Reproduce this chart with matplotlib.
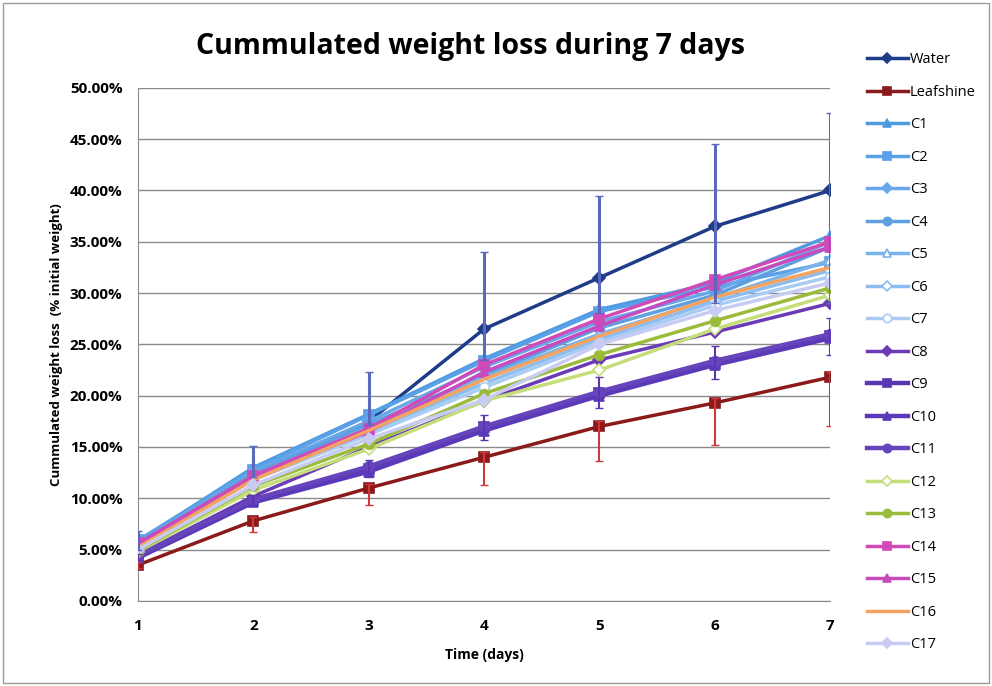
import matplotlib
matplotlib.use("Agg")
import matplotlib.pyplot as plt
import matplotlib.ticker as ticker
from matplotlib.patches import Rectangle

plt.rcParams["font.family"] = ["Open Sans", "DejaVu Sans"]

days = [1, 2, 3, 4, 5, 6, 7]
labels = ["Water", "Leafshine", "C1", "C2", "C3", "C4", "C5", "C6", "C7", "C8",
          "C9", "C10", "C11", "C12", "C13", "C14", "C15", "C16", "C17"]

# weight loss in % of initial weight
water = [5.3, 12.5, 17.5, 26.5, 31.5, 36.5, 40.0]
leafshine = [3.5, 7.8, 11.0, 14.0, 17.0, 19.3, 21.8]
c1 = [5.8, 13.0, 18.2, 23.6, 28.4, 31.0, 35.6]
c2 = [5.9, 12.8, 18.1, 23.4, 28.2, 30.6, 33.0]
c3 = [5.6, 12.6, 17.5, 22.8, 27.2, 30.2, 35.0]
c4 = [5.5, 12.4, 17.2, 22.0, 26.6, 29.8, 34.5]
c5 = [5.4, 12.2, 16.8, 21.8, 26.0, 29.5, 33.2]
c6 = [5.3, 12.0, 16.5, 21.2, 25.5, 29.2, 32.2]
c7 = [5.2, 11.8, 16.2, 20.8, 25.2, 28.8, 31.6]
c8 = [4.5, 10.2, 15.0, 19.5, 23.5, 26.2, 29.0]
c9 = [4.3, 9.8, 12.9, 16.9, 20.3, 23.2, 25.8]
c10 = [4.2, 9.6, 12.6, 16.6, 20.0, 23.0, 25.6]
c11 = [4.4, 9.9, 13.1, 17.0, 20.4, 23.4, 26.0]
c12 = [4.8, 10.8, 14.8, 19.5, 22.5, 26.5, 29.8]
c13 = [4.9, 11.2, 15.3, 20.2, 24.0, 27.3, 30.5]
c14 = [5.6, 12.2, 16.8, 23.0, 27.5, 31.3, 35.0]
c15 = [5.5, 12.0, 16.5, 22.3, 26.8, 30.8, 34.5]
c16 = [5.2, 11.8, 16.6, 21.6, 25.8, 29.6, 32.5]
c17 = [5.0, 11.3, 15.8, 19.6, 25.0, 28.3, 31.0]

series = [water, leafshine, c1, c2, c3, c4, c5, c6, c7, c8,
          c9, c10, c11, c12, c13, c14, c15, c16, c17]

# error bars (lower, upper)
water_err_lo = [0.3, 0.4, 0.4, 3.0, 3.4, 7.5, 11.0]
water_err_hi = [1.5, 2.6, 4.8, 7.5, 8.0, 8.0, 7.5]
leaf_err_lo = [0.3, 1.1, 1.7, 2.7, 3.4, 4.1, 4.8]
leaf_err_hi = [0.3, 0.4, 0.4, 0.5, 0.5, 0.5, 0.5]
purple_err = [0.3, 0.5, 0.8, 1.2, 1.5, 1.6, 1.8]

colors = ["#1F3C88", "#8B1A1A", "#4F9BE0", "#5AA0E8", "#68A8EA", "#5E9FDF",
          "#7AB3EC", "#8DBDF0", "#A8CCF2", "#6A3BB5", "#5B36B0", "#5A3AB8",
          "#6644BB", "#C5DE7A", "#9BBB3A", "#D04AB8", "#C84ABF", "#F4A460",
          "#C8CCF4"]
markers = ["D", "s", "^", "s", "D", "o", "^", "D", "o", "D",
           "s", "^", "o", "D", "o", "s", "^", None, "D"]
open_marker = {"C5", "C6", "C7", "C12"}

fig = plt.figure(figsize=(9.92, 6.86), dpi=100)
ax = fig.add_axes([0.139, 0.124, 0.698, 0.748])

for name, vals, col, mk in zip(labels, series, colors, markers):
    lw = 2.5
    ms = 7 if mk != "D" else 6
    if name in ("C9", "C10", "C11"):
        lw = 3.2
    mfc = "white" if name in open_marker else col
    ax.plot(days, vals, color=col, lw=lw, marker=mk, ms=ms,
            mfc=mfc, mec=col, mew=1.2, label=name, zorder=3)

ax.errorbar(days, water, yerr=[water_err_lo, water_err_hi], fmt="none",
            ecolor="#5A68BE", elinewidth=2.2, capsize=3, zorder=4)
ax.errorbar(days, leafshine, yerr=[leaf_err_lo, leaf_err_hi], fmt="none",
            ecolor="#D0393A", elinewidth=1.5, capsize=3, zorder=4)
ax.errorbar(days, c9, yerr=purple_err, fmt="none",
            ecolor="#5B36B0", elinewidth=1.5, capsize=3, zorder=4)

ax.set_xlim(1, 7)
ax.set_ylim(0, 50)
ax.set_xticks(days)
ax.yaxis.set_major_locator(ticker.MultipleLocator(5))
ax.yaxis.set_major_formatter(ticker.FuncFormatter(lambda v, p: f"{v:.2f}%"))
ax.grid(axis="y", color="#8A8A8A", lw=1)
ax.set_axisbelow(True)
for s in ("top", "right"):
    ax.spines[s].set_visible(False)
ax.spines["left"].set_color("#8A8A8A")
ax.spines["bottom"].set_color("#8A8A8A")
ax.tick_params(axis="both", length=0, labelsize=11)
ax.tick_params(axis="x", pad=13)
ax.tick_params(axis="y", pad=11)
for t in ax.get_xticklabels() + ax.get_yticklabels():
    t.set_fontweight("bold")

ax.set_xlabel("Time (days)", fontsize=10, fontweight="bold", labelpad=11)
ax.set_ylabel("Cummulated weight loss  (% initial weight)", fontsize=9.5,
              fontweight="bold", labelpad=5)
fig.text(0.474, 0.932, "Cummulated weight loss during 7 days", ha="center",
         va="center", fontsize=20.5, fontweight="bold")

fig.legend(loc="upper left", bbox_to_anchor=(0.868, 0.932), frameon=False,
           fontsize=10.5, labelspacing=1.2, handlelength=2.8,
           handletextpad=0.15, borderaxespad=0, markerscale=0.85)

fig.patches.append(Rectangle((0.003, 0.004), 0.994, 0.992, transform=fig.transFigure,
                             fill=False, edgecolor="#9A9A9A", lw=1))

fig.savefig("out.png", dpi=100)
